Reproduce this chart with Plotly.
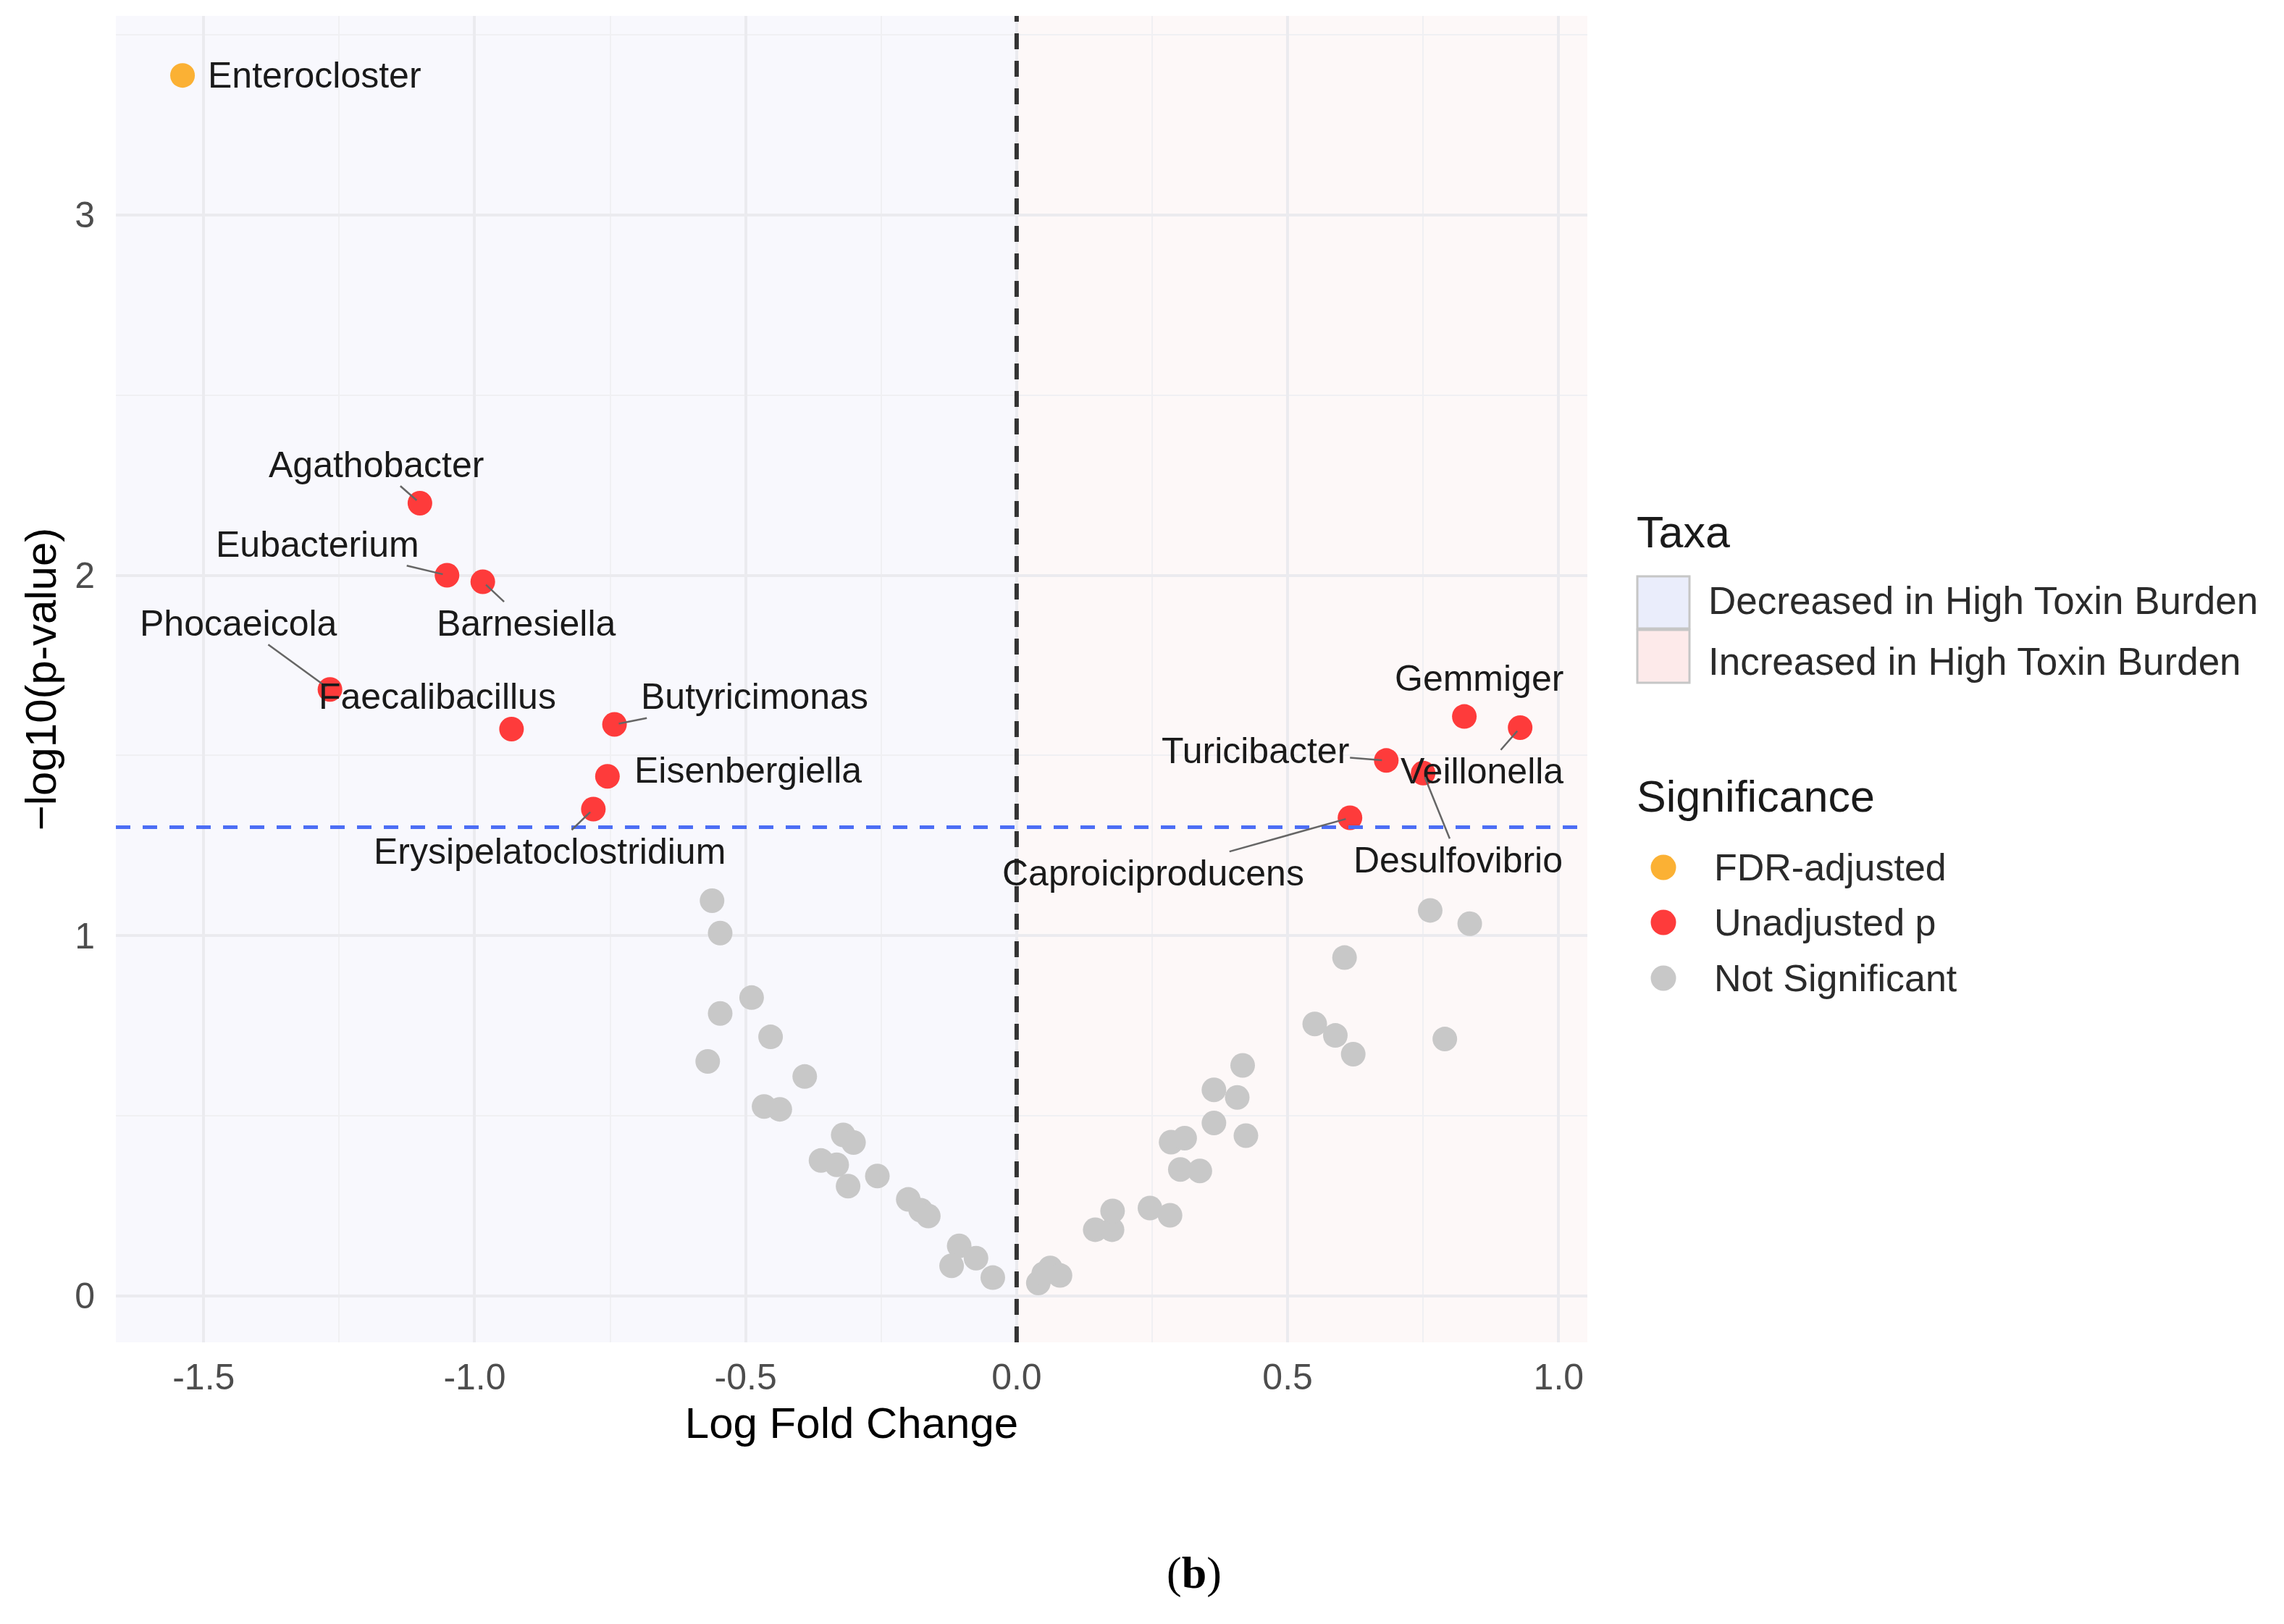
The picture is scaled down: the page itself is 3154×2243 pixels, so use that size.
import math
import plotly.graph_objects as go

# significant taxa (labelled)
sig_taxa = ["Enterocloster", "Agathobacter", "Eubacterium", "Barnesiella",
            "Phocaeicola", "Faecalibacillus", "Butyricimonas", "Eisenbergiella",
            "Erysipelatoclostridium", "Gemmiger", "Veillonella", "Turicibacter",
            "Desulfovibrio", "Caproiciproducens"]
sig_lfc = [-1.539, -1.101, -1.051, -0.985, -1.267, -0.932, -0.742, -0.755,
           -0.781, 0.826, 0.929, 0.682, 0.750, 0.615]
sig_logp = [3.387, 2.200, 2.000, 1.982, 1.683, 1.573, 1.586, 1.442,
            1.351, 1.608, 1.577, 1.486, 1.451, 1.327]
sig_class = ["FDR-adjusted"] + ["Unadjusted p"] * 13

# not significant taxa
ns_lfc = [-0.562, -0.547, -0.489, -0.547, -0.454, -0.570, -0.391, -0.466,
          -0.437, -0.320, -0.301, -0.361, -0.332, -0.311, -0.257, -0.200,
          -0.177, -0.163, -0.106, -0.075, -0.120, -0.044,
          0.040, 0.050, 0.062, 0.080, 0.145, 0.176, 0.177, 0.246, 0.283,
          0.302, 0.338, 0.285, 0.310, 0.364, 0.423, 0.364, 0.407, 0.417,
          0.550, 0.588, 0.621, 0.605, 0.763, 0.836, 0.790]
ns_logp = [1.097, 1.007, 0.828, 0.784, 0.719, 0.651, 0.609, 0.526,
           0.518, 0.447, 0.426, 0.376, 0.364, 0.305, 0.333, 0.268,
           0.238, 0.222, 0.139, 0.105, 0.084, 0.051,
           0.036, 0.062, 0.078, 0.057, 0.184, 0.184, 0.236, 0.244, 0.224,
           0.351, 0.347, 0.427, 0.438, 0.480, 0.445, 0.572, 0.551, 0.640,
           0.755, 0.723, 0.671, 0.939, 1.070, 1.033, 0.713]

x_ticks = [-1.5, -1.0, -0.5, 0.0, 0.5, 1.0]
x_ticktext = ["-1.5", "-1.0", "-0.5", "0.0", "0.5", "1.0"]
y_ticks = [0, 1, 2, 3]

sig_colors = {"FDR-adjusted": "#fbb134", "Unadjusted p": "#fe3b3b",
              "Not Significant": "#c8c8c8"}
taxa_legend = ["Decreased in High Toxin Burden", "Increased in High Toxin Burden"]
taxa_fill = ["#eaedfb", "#fdeaea"]

# repel-style label placement: (x, y, draw segment)
label_pos = {
    "Enterocloster": (-1.295, 3.387, False),
    "Agathobacter": (-1.182, 2.307, True),
    "Eubacterium": (-1.290, 2.086, True),
    "Barnesiella": (-0.904, 1.867, True),
    "Phocaeicola": (-1.435, 1.867, True),
    "Faecalibacillus": (-1.069, 1.663, False),
    "Butyricimonas": (-0.483, 1.663, True),
    "Eisenbergiella": (-0.495, 1.458, False),
    "Erysipelatoclostridium": (-0.862, 1.234, True),
    "Gemmiger": (0.853, 1.714, False),
    "Turicibacter": (0.440, 1.513, True),
    "Veillonella": (0.859, 1.456, True),
    "Desulfovibrio": (0.815, 1.210, True),
    "Caproiciproducens": (0.252, 1.174, True),
}

threshold = -math.log10(0.05)
x_range = [-1.662, 1.053]
y_range = [-0.1286, 3.552]

# page offset of the plot div (body margin)
OFF = 8
W, H = 3154 - OFF, 2243 - OFF
L, T = 160 - OFF, 22 - OFF
R, B = W - (2192 - OFF), H - (1854 - OFF)
FONT = "Liberation Sans, Arial, sans-serif"


def px(X):
    return (X - OFF - L) / (W - L - R)


def py(Y):
    return (H - B - (Y - OFF)) / (H - T - B)


fig = go.Figure()

fig.add_trace(go.Scatter(
    x=ns_lfc, y=ns_logp, mode="markers", name="Not Significant",
    marker=dict(size=34, color=sig_colors["Not Significant"], line=dict(width=0)),
    showlegend=False))
for cls in ["Unadjusted p", "FDR-adjusted"]:
    xs = [x for x, c in zip(sig_lfc, sig_class) if c == cls]
    ys = [y for y, c in zip(sig_logp, sig_class) if c == cls]
    fig.add_trace(go.Scatter(
        x=xs, y=ys, mode="markers", name=cls,
        marker=dict(size=34, color=sig_colors[cls], line=dict(width=0)),
        showlegend=False))

shapes = [
    dict(type="rect", xref="x", yref="paper", x0=x_range[0], x1=0, y0=0, y1=1,
         fillcolor="#f8f8fd", line=dict(width=0), layer="below"),
    dict(type="rect", xref="x", yref="paper", x0=0, x1=x_range[1], y0=0, y1=1,
         fillcolor="#fdf8f8", line=dict(width=0), layer="below"),
    dict(type="line", xref="paper", yref="y", x0=0, x1=1, y0=threshold, y1=threshold,
         line=dict(color="#4c6ef5", width=5, dash="20px,17px"), layer="above"),
    dict(type="line", xref="x", yref="paper", x0=0, x1=0, y0=0, y1=1,
         line=dict(color="#333333", width=6, dash="22px,16px"), layer="above"),
]

annotations = []
for name, xv, yv in zip(sig_taxa, sig_lfc, sig_logp):
    lx, ly, seg = label_pos[name]
    if seg:
        annotations.append(dict(
            x=xv, y=yv, ax=lx, ay=ly, axref="x", ayref="y", xref="x", yref="y",
            text=name, showarrow=True, arrowhead=0, arrowwidth=2.5,
            arrowcolor="#666666", standoff=6,
            font=dict(family=FONT, size=50, color="#1a1a1a")))
    else:
        annotations.append(dict(
            x=lx, y=ly, xref="x", yref="y", text=name, showarrow=False,
            font=dict(family=FONT, size=50, color="#1a1a1a")))

# legend: Taxa
annotations.append(dict(x=px(2258), y=py(735), xref="paper", yref="paper",
                        text="Taxa", showarrow=False, xanchor="left", yanchor="middle",
                        font=dict(family=FONT, size=61, color="#1a1a1a")))
key_y = [(796, 868), (870, 943)]
text_y = [829, 913]
for lab, fill, (y0, y1), ty in zip(taxa_legend, taxa_fill, key_y, text_y):
    shapes.append(dict(type="rect", xref="paper", yref="paper",
                       x0=px(2261), x1=px(2333), y0=py(y1), y1=py(y0),
                       fillcolor=fill, line=dict(color="#c6c6c6", width=3)))
    annotations.append(dict(x=px(2357), y=py(ty), xref="paper", yref="paper",
                            text=lab, showarrow=False, xanchor="left", yanchor="middle",
                            font=dict(family=FONT, size=53, color="#2b2b2b")))

# legend: Significance
annotations.append(dict(x=px(2258), y=py(1100), xref="paper", yref="paper",
                        text="Significance", showarrow=False, xanchor="left",
                        yanchor="middle",
                        font=dict(family=FONT, size=61, color="#1a1a1a")))
sig_order = ["FDR-adjusted", "Unadjusted p", "Not Significant"]
sig_y = [1198, 1274, 1351]
for lab, ty in zip(sig_order, sig_y):
    shapes.append(dict(type="circle", xref="paper", yref="paper",
                       x0=px(2297 - 17.5), x1=px(2297 + 17.5),
                       y0=py(ty + 17.5), y1=py(ty - 17.5),
                       fillcolor=sig_colors[lab], line=dict(width=0)))
    annotations.append(dict(x=px(2365), y=py(ty), xref="paper", yref="paper",
                            text=lab, showarrow=False, xanchor="left", yanchor="middle",
                            font=dict(family=FONT, size=52, color="#2b2b2b")))

# panel caption
annotations.append(dict(x=px(1649), y=py(2172), xref="paper", yref="paper",
                        text="(<b>b</b>)", showarrow=False, xanchor="center",
                        yanchor="middle",
                        font=dict(family="Liberation Serif, Times New Roman, serif",
                                  size=62, color="#000000")))

fig.update_layout(
    width=W, height=H,
    margin=dict(l=L, r=R, t=T, b=B),
    paper_bgcolor="white", plot_bgcolor="white",
    shapes=shapes, annotations=annotations,
    xaxis=dict(
        range=x_range, tickvals=x_ticks, ticktext=x_ticktext,
        showgrid=True, gridcolor="#ebebef", gridwidth=4,
        minor=dict(tick0=0, dtick=0.25, showgrid=True, gridcolor="#f0f0f3", gridwidth=2),
        zeroline=False, showline=False, ticks="", ticklabelstandoff=14,
        tickfont=dict(family=FONT, size=50, color="#4d4d4d"),
        title=dict(text="Log Fold Change", standoff=14,
                   font=dict(family=FONT, size=60, color="#000000")),
        automargin=False),
    yaxis=dict(
        range=y_range, tickvals=y_ticks,
        showgrid=True, gridcolor="#ebebef", gridwidth=4,
        minor=dict(tick0=0, dtick=0.5, showgrid=True, gridcolor="#f0f0f3", gridwidth=2),
        zeroline=False, showline=False, ticks="", ticklabelstandoff=28,
        tickfont=dict(family=FONT, size=50, color="#4d4d4d"),
        title=dict(text="−log10(p-value)", standoff=6,
                   font=dict(family=FONT, size=60, color="#000000")),
        automargin=False),
)

fig.write_html("out.html")
